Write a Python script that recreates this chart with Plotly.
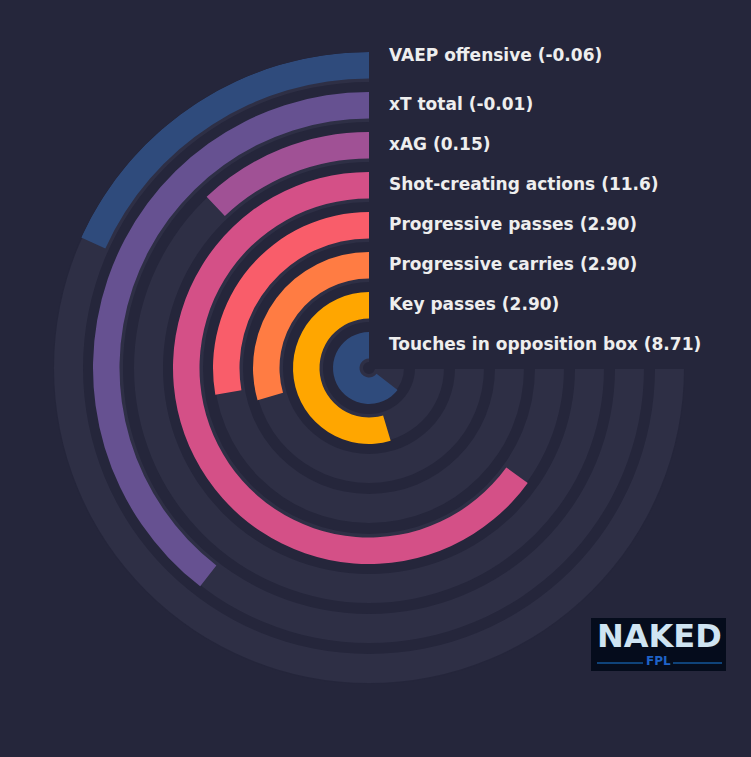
import plotly.graph_objects as go

# metrics from outside (index 0) to inside
metrics = ['VAEP offensive', 'xT total', 'xAG', 'Shot-creating actions',
           'Progressive passes', 'Progressive carries', 'Key passes',
           'Touches in opposition box']
values = ['-0.06', '-0.01', '0.15', '11.6', '2.90', '2.90', '2.90', '8.71']
percentiles = [24.3, 52.7, 16.1, 86.7, 37.0, 39.3, 72.8, 86.1]
colors = ['#2f4b7c', '#665191', '#a05195', '#d45087', '#f95d6a',
          '#ff7c43', '#ffa600', '#2f4b7c']

W, H = 751, 757
bg = '#25263b'
track = '#2e2f45'
cx, cy = 369, 368
R = 316

fig = go.Figure()

for i, (m, p, c) in enumerate(zip(metrics, percentiles, colors)):
    t_out = R - 1 - 40 * i
    t_in = max(t_out - 29, 6)
    b_out = R - 40 * i
    b_in = max(b_out - 26.5, 9)
    # full 270 degree track
    fig.add_trace(go.Barpolar(r=[t_out - t_in], base=[t_in],
                              theta=[135], width=[270],
                              marker=dict(color=track, line=dict(width=0)),
                              hoverinfo='skip', showlegend=False))
    sweep = p / 100 * 270
    fig.add_trace(go.Barpolar(r=[b_out - b_in], base=[b_in],
                              theta=[sweep / 2], width=[sweep],
                              marker=dict(color=c, line=dict(width=0)),
                              name=m, showlegend=False))

fig.update_layout(
    width=W, height=H,
    margin=dict(l=0, r=0, t=0, b=0),
    paper_bgcolor=bg, plot_bgcolor=bg,
    polar=dict(
        domain=dict(x=[(cx - R) / W, (cx + R) / W],
                    y=[(H - cy - R) / H, (H - cy + R) / H]),
        bgcolor=bg,
        radialaxis=dict(range=[0, R], visible=False, showgrid=False),
        angularaxis=dict(rotation=90, direction='counterclockwise',
                         visible=False, showgrid=False),
        bargap=0,
    ),
)

# box hiding the upper right quadrant, holds the labels
fig.add_shape(type='rect', xref='paper', yref='paper',
              x0=(cx + 1) / W, x1=1, y0=(H - cy - 1) / H, y1=(H - 30) / H,
              fillcolor=bg, line=dict(width=0), layer='above')

for i, (m, v) in enumerate(zip(metrics, values)):
    y = 64 + 40 * i if i > 0 else 55
    fig.add_annotation(x=387 / W, y=(H - y) / H, xref='paper', yref='paper',
                       text=f'<b>{m} ({v})</b>', showarrow=False,
                       xanchor='left', yanchor='middle',
                       font=dict(family='DejaVu Sans', size=17, color='#eeeeee'))

# logo
fig.add_shape(type='rect', xref='paper', yref='paper',
              x0=591 / W, x1=726 / W, y0=(H - 671) / H, y1=(H - 618) / H,
              fillcolor='#050c1c', line=dict(width=0), layer='above')
fig.add_annotation(x=659 / W, y=(H - 636) / H, xref='paper', yref='paper',
                   text='<b>NAKED</b>', showarrow=False,
                   xanchor='center', yanchor='middle',
                   font=dict(family='DejaVu Sans', size=32, color='#cfe4f2'))
fig.add_annotation(x=658 / W, y=(H - 661) / H, xref='paper', yref='paper',
                   text='<b>FPL</b>', showarrow=False,
                   xanchor='center', yanchor='middle',
                   font=dict(family='DejaVu Sans', size=12, color='#1f63c8'))
for x0, x1 in [(597, 643), (673, 722)]:
    fig.add_shape(type='line', xref='paper', yref='paper',
                  x0=x0 / W, x1=x1 / W, y0=(H - 663) / H, y1=(H - 663) / H,
                  line=dict(color='#1a7ad8', width=1), layer='above')

fig.write_html('out.html', config={'displayModeBar': False},
               post_script="document.body.style.margin='0';")
